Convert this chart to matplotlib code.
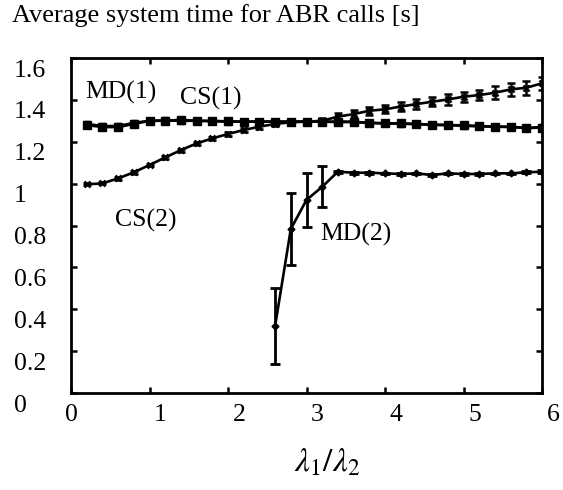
import numpy as np
import matplotlib
matplotlib.use("Agg")
import matplotlib.pyplot as plt
from matplotlib.transforms import ScaledTranslation

plt.rcParams['font.family'] = ['Liberation Serif', 'DejaVu Serif']
plt.rcParams['mathtext.fontset'] = 'stix'

# ---------------- data ----------------
title = "Average system time for ABR calls [s]"
x_label = r"$\lambda_1/\lambda_2$"

x_full = [0.2, 0.4, 0.6, 0.8, 1.0, 1.2, 1.4, 1.6, 1.8, 2.0,
          2.2, 2.4, 2.6, 2.8, 3.0, 3.2, 3.4, 3.6, 3.8, 4.0,
          4.2, 4.4, 4.6, 4.8, 5.0, 5.2, 5.4, 5.6, 5.8, 6.0]

md1 = [1.28, 1.27, 1.27, 1.285, 1.30, 1.30, 1.305, 1.30, 1.30, 1.297,
       1.296, 1.296, 1.296, 1.296, 1.296, 1.296, 1.296, 1.296, 1.29, 1.288,
       1.288, 1.285, 1.282, 1.28, 1.278, 1.275, 1.272, 1.272, 1.265, 1.268]

cs1 = [1.285, 1.275, 1.275, 1.29, 1.30, 1.302, 1.30, 1.30, 1.298, 1.296,
       1.296, 1.296, 1.296, 1.296, 1.296, 1.296, 1.294, 1.294, 1.29, 1.288,
       1.286, 1.284, 1.28, 1.28, 1.276, 1.274, 1.272, 1.27, 1.266, 1.27]

cs2 = [0.997, 1.001, 1.025, 1.054, 1.089, 1.125, 1.160, 1.192, 1.216, 1.237,
       1.256, 1.272, 1.285, 1.293, 1.296, 1.300, 1.320, 1.332, 1.348, 1.355,
       1.368, 1.380, 1.391, 1.402, 1.415, 1.423, 1.434, 1.450, 1.458, 1.479]
cs2_err = [0.005, 0.005, 0.006, 0.006, 0.006, 0.007, 0.007, 0.007, 0.008, 0.008,
           0.010, 0.010, 0.012, 0.012, 0.012, 0.012, 0.018, 0.020, 0.018, 0.020,
           0.020, 0.022, 0.022, 0.025, 0.025, 0.025, 0.030, 0.030, 0.033, 0.030]

x_md2 = [2.6, 2.8, 3.0, 3.2, 3.4, 3.6, 3.8, 4.0, 4.2, 4.4,
         4.6, 4.8, 5.0, 5.2, 5.4, 5.6, 5.8, 6.0]
md2 = [0.32, 0.783, 0.922, 0.985, 1.057, 1.052, 1.052, 1.049, 1.046, 1.049,
       1.041, 1.049, 1.046, 1.046, 1.049, 1.049, 1.054, 1.057]
md2_err = [0.18, 0.17, 0.13, 0.097, 0.005, 0.004, 0.004, 0.004, 0.004, 0.004,
           0.004, 0.004, 0.004, 0.004, 0.004, 0.004, 0.005, 0.006]

series_labels = ["MD(1)", "CS(1)", "CS(2)", "MD(2)"]
label_pos_x = [0.18, 1.39, 0.56, 3.18]
label_pos_y = [1.437, 1.409, 0.826, 0.755]

x_ticks = [0, 1, 2, 3, 4, 5, 6]
x_tick_labels = ["0", "1", "2", "3", "4", "5", "6"]
y_ticks = [0, 0.2, 0.4, 0.6, 0.8, 1.0, 1.2, 1.4, 1.6]
y_tick_labels = ["0", "0.2", "0.4", "0.6", "0.8", "1", "1.2", "1.4", "1.6"]

# ---------------- figure ----------------
fig = plt.figure(figsize=(5.63, 4.90), dpi=100)
ax = fig.add_axes([71/563, 97/490, (542-71)/563, (393-58)/490])

lw = 1.9
ax.plot(x_full, md1, color='black', lw=lw, marker='s', ms=6, zorder=3)
ax.plot(x_full, cs1, color='black', lw=lw, marker='s', ms=5, zorder=3)
ax.errorbar(x_full, cs2, yerr=cs2_err, color='black', lw=lw, marker='x',
            ms=4.5, mew=1.8, elinewidth=1.8, capsize=3, capthick=1.8, zorder=3)
ax.errorbar(x_md2, md2, yerr=md2_err, color='black', lw=lw, marker='D',
            ms=3.5, elinewidth=2.0, capsize=3.5, capthick=2.0, zorder=3)

for lab, lx, ly in zip(series_labels, label_pos_x, label_pos_y):
    ax.text(lx, ly, lab, fontsize=18.5, ha='left', va='center')

ax.set_xlim(0, 6)
ax.set_ylim(0, 1.6)
ax.set_xticks(x_ticks)
ax.set_xticklabels(x_tick_labels, fontsize=18.5)
ax.set_yticks(y_ticks)
ax.set_yticklabels(y_tick_labels, fontsize=18.5)

for sp in ax.spines.values():
    sp.set_linewidth(2.0)

ax.tick_params(axis='both', direction='in', length=4.5, width=1.8,
               top=True, right=True)
ax.tick_params(axis='y', pad=41)
ax.tick_params(axis='x', pad=8)

for lab in ax.get_yticklabels():
    lab.set_horizontalalignment('left')
    lab.set_transform(lab.get_transform() +
                      ScaledTranslation(0, -10/100, fig.dpi_scale_trans))
for i, lab in enumerate(ax.get_xticklabels()):
    dx = 0 if i == 0 else 11/100
    lab.set_transform(lab.get_transform() +
                      ScaledTranslation(dx, 0, fig.dpi_scale_trans))

ax.set_xlabel(x_label, fontsize=24)
ax.xaxis.set_label_coords((327-71)/471, -0.16)

fig.text(12/563, 1 - 22/490, title, fontsize=19, ha='left', va='baseline')

fig.savefig("out.png", dpi=100)
